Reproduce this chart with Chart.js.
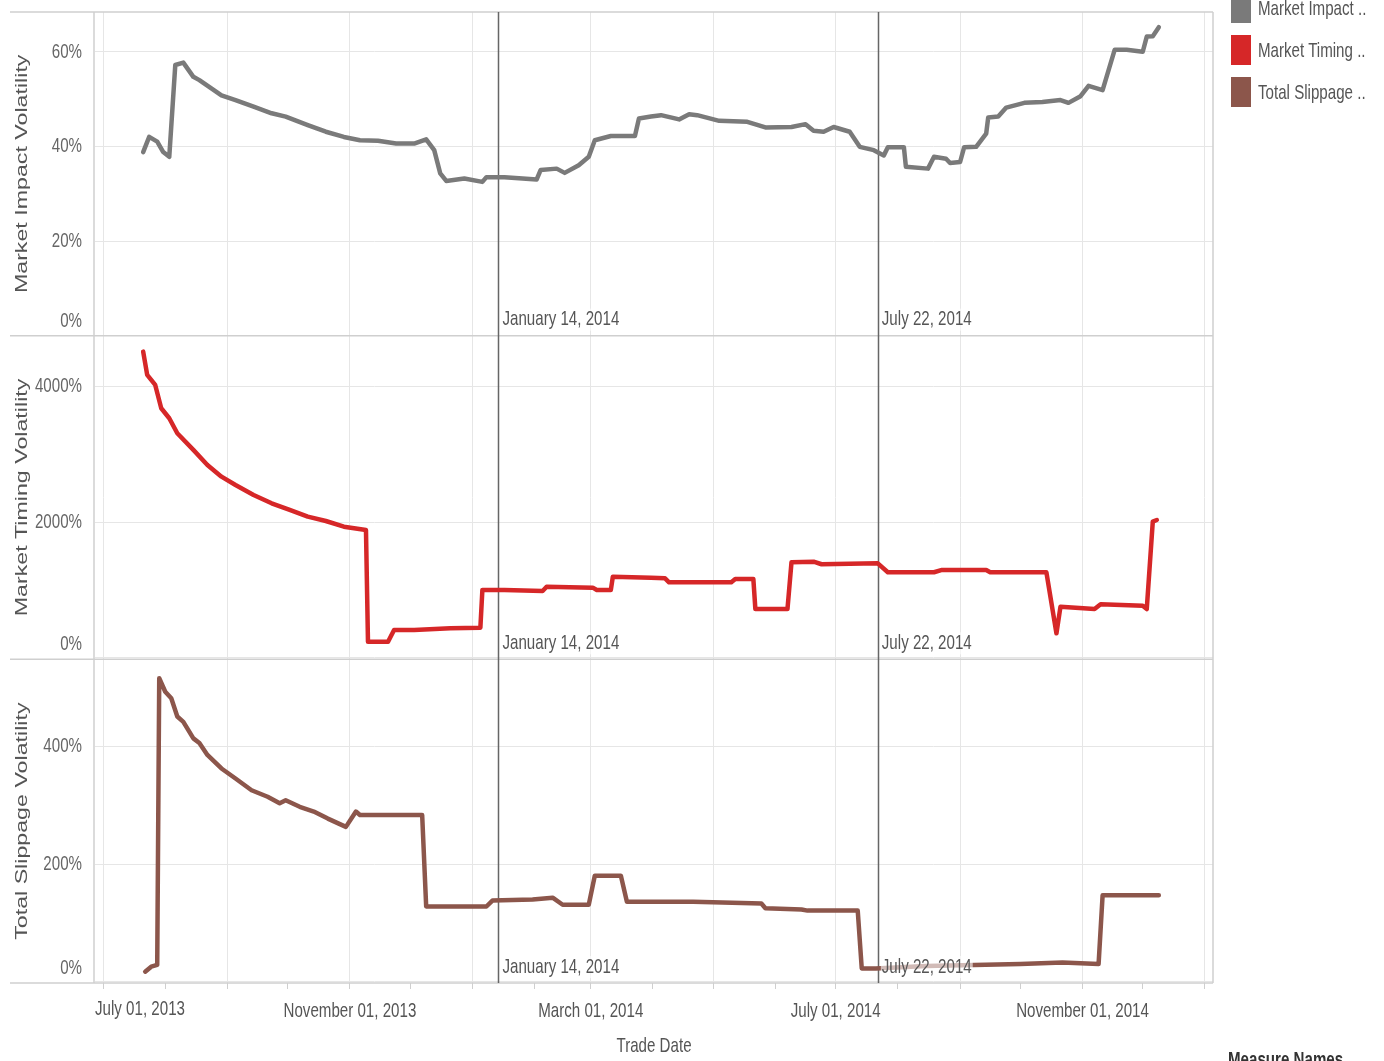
<!DOCTYPE html>
<html>
<head>
<meta charset="utf-8">
<script src="https://cdn.jsdelivr.net/npm/chart.js@4.4.1/dist/chart.umd.min.js"></script>
<style>
  html, body { margin: 0; padding: 0; background: #fff; overflow: hidden; }
  #wrap { position: relative; width: 1384px; height: 1061px; }
  #chart { position: absolute; left: 0; top: 0; }
  .legend-item { position: absolute; left: 1231px; height: 30px; display: flex; align-items: center; white-space: nowrap;
    font-family: 'Liberation Sans', Arial, sans-serif; font-size: 21px; color: #555; }
  .legend-item .sw { display: inline-block; width: 20px; height: 30px; margin-right: 7px; }
  .legend-item .tx { display: inline-block; transform: scaleX(0.72); transform-origin: left center; }
  #measure { position: absolute; left: 1228px; top: 1047px; font-weight: bold; color: #333; white-space: nowrap;
    font-family: 'Liberation Sans', Arial, sans-serif; font-size: 21px; transform: scaleX(0.72); transform-origin: left top; }
</style>
</head>
<body>
<div id="wrap">
  <canvas id="chart" width="1384" height="1061"></canvas>
  <div id="legend"></div>
  <div id="measure">Measure Names</div>
</div>
<script>
// ---- data ----
const seriesNames = ['Market Impact ..', 'Market Timing ..', 'Total Slippage ..'];
const seriesColors = ['#7a7a7a', '#d62728', '#8c564b'];

const impactDates = ['2013-07-21','2013-07-24','2013-07-28','2013-07-31','2013-08-03','2013-08-06','2013-08-10','2013-08-15','2013-08-18','2013-08-29',
  '2013-09-05','2013-09-14','2013-09-23','2013-09-30','2013-10-11','2013-10-20','2013-10-29','2013-11-06','2013-11-15','2013-11-24',
  '2013-12-03','2013-12-09','2013-12-13','2013-12-16','2013-12-19','2013-12-28','2014-01-06','2014-01-08','2014-01-17','2014-01-26',
  '2014-02-02','2014-02-04','2014-02-12','2014-02-16','2014-02-23','2014-02-28','2014-03-03','2014-03-11','2014-03-23','2014-03-25',
  '2014-03-31','2014-04-05','2014-04-14','2014-04-19','2014-04-23','2014-05-04','2014-05-18','2014-05-27','2014-06-09','2014-06-16',
  '2014-06-20','2014-06-25','2014-06-30','2014-07-08','2014-07-13','2014-07-20','2014-07-25','2014-07-27','2014-08-04','2014-08-05',
  '2014-08-16','2014-08-19','2014-08-25','2014-08-27','2014-09-01','2014-09-03','2014-09-09','2014-09-14','2014-09-15','2014-09-20',
  '2014-09-24','2014-10-03','2014-10-12','2014-10-21','2014-10-25','2014-10-31','2014-11-04','2014-11-11','2014-11-17','2014-11-23',
  '2014-12-01','2014-12-03','2014-12-06','2014-12-09'];
const impactValues = [38.8, 42.0, 41.0, 38.8, 37.8, 57.2, 57.7, 54.7, 54.0, 50.8,
  49.8, 48.4, 47.0, 46.3, 44.5, 43.1, 42.0, 41.3, 41.2, 40.6,
  40.6, 41.5, 39.2, 34.3, 32.7, 33.2, 32.5, 33.5, 33.5, 33.2,
  33.0, 35.0, 35.3, 34.4, 36.0, 37.8, 41.3, 42.2, 42.2, 45.9,
  46.3, 46.6, 45.7, 46.8, 46.6, 45.4, 45.2, 44.0, 44.1, 44.7,
  43.3, 43.1, 44.1, 43.1, 39.9, 39.2, 38.1, 39.8, 39.8, 35.7,
  35.3, 37.8, 37.4, 36.5, 36.7, 39.8, 39.9, 42.7, 46.1, 46.3,
  48.2, 49.2, 49.4, 49.8, 49.2, 50.6, 52.8, 51.9, 60.4, 60.4,
  60.0, 63.2, 63.3, 65.2];

const timingDates = ['2013-07-21','2013-07-23','2013-07-27','2013-07-30','2013-08-03','2013-08-07','2013-08-15','2013-08-22','2013-08-29','2013-09-05',
  '2013-09-14','2013-09-23','2013-10-02','2013-10-11','2013-10-20','2013-10-29','2013-11-09','2013-11-10','2013-11-20','2013-11-23',
  '2013-12-03','2013-12-21','2014-01-05','2014-01-06','2014-01-17','2014-02-05','2014-02-07','2014-03-02','2014-03-04','2014-03-11',
  '2014-03-12','2014-03-31','2014-04-07','2014-04-09','2014-05-10','2014-05-12','2014-05-21','2014-05-22','2014-06-07','2014-06-09',
  '2014-06-20','2014-06-24','2014-07-22','2014-07-27','2014-08-19','2014-08-23','2014-09-14','2014-09-16','2014-10-14','2014-10-19',
  '2014-10-21','2014-11-07','2014-11-10','2014-12-01','2014-12-03','2014-12-06','2014-12-08'];
const timingValues = [4517, 4173, 4025, 3682, 3534, 3313, 3067, 2845, 2673, 2550,
  2403, 2280, 2182, 2083, 2019, 1935, 1887, 239, 239, 412,
  412, 437, 446, 1002, 1002, 987, 1050, 1036, 1002, 1002,
  1198, 1183, 1174, 1115, 1115, 1164, 1164, 721, 721, 1410,
  1419, 1381, 1395, 1263, 1263, 1297, 1297, 1263, 1263, 363,
  755, 721, 791, 770, 721, 2009, 2034];

const slipDates = ['2013-07-22','2013-07-25','2013-07-28','2013-07-29','2013-08-01','2013-08-04','2013-08-07','2013-08-10','2013-08-15','2013-08-18',
  '2013-08-22','2013-08-29','2013-09-05','2013-09-13','2013-09-21','2013-09-27','2013-09-30','2013-10-07','2013-10-14','2013-10-21',
  '2013-10-30','2013-11-04','2013-11-06','2013-12-07','2013-12-09','2014-01-08','2014-01-11','2014-01-31','2014-02-10','2014-02-15',
  '2014-02-28','2014-03-03','2014-03-16','2014-03-19','2014-04-21','2014-05-25','2014-05-27','2014-06-14','2014-06-17','2014-07-12',
  '2014-07-14','2014-07-21','2014-08-15','2014-09-08','2014-10-01','2014-10-22','2014-11-09','2014-11-11','2014-12-09'];
const slipValues = [17.5, 26, 29, 515, 492, 481, 450, 441, 413, 405,
  385, 362, 345, 325, 314, 303, 308, 297, 289, 277,
  263, 289, 283, 283, 128, 128, 138, 140, 143, 131,
  131, 180, 180, 136, 136, 133, 125, 123, 121, 121,
  23, 23, 27, 29, 30.5, 33, 30.5, 147, 147];

const impactTicks = [0, 20, 40, 60];
const timingTicks = [0, 2000, 4000];
const slipTicks = [0, 200, 400];

const monthTicks = ['2013-07-01','2013-08-01','2013-09-01','2013-10-01','2013-11-01','2013-12-01','2014-01-01','2014-02-01','2014-03-01','2014-04-01',
  '2014-05-01','2014-06-01','2014-07-01','2014-08-01','2014-09-01','2014-10-01','2014-11-01','2014-12-01','2015-01-01'];
const xLabelDates = ['2013-07-01', '2013-11-01', '2014-03-01', '2014-07-01', '2014-11-01'];
const xLabelTexts = ['July 01, 2013', 'November 01, 2013', 'March 01, 2014', 'July 01, 2014', 'November 01, 2014'];

const refDates = ['2014-01-14', '2014-07-22'];
const refLabels = ['January 14, 2014', 'July 22, 2014'];

// ---- setup ----
// the original uses a narrow face; Liberation Sans is squeezed sideways to stand in for it
const NARROW = "'Liberation Sans Narrow', 'Liberation Sans', sans-serif";
const WIDE = "Arial, 'Liberation Sans', sans-serif";
const toPoints = (dates, vals) => dates.map((d, i) => ({ x: Date.parse(d), y: vals[i] }));

const canvas = document.getElementById('chart');
const c2d = canvas.getContext('2d');
const stretchFor = font => (font.includes('Narrow') ? 0.72 : font.includes('Arial') ? 1.45 : 1);
const rawFill = c2d.fillText.bind(c2d);
const rawMeasure = c2d.measureText.bind(c2d);
c2d.fillText = function (text, x, y) {
  const k = stretchFor(c2d.font);
  if (k === 1) return rawFill(text, x, y);
  c2d.save();
  c2d.translate(x, y);
  c2d.scale(k, 1);
  rawFill(text, 0, 0);
  c2d.restore();
};
c2d.measureText = function (text) {
  const m = rawMeasure(text);
  const k = stretchFor(c2d.font);
  if (k === 1) return m;
  return { width: m.width * k, actualBoundingBoxAscent: m.actualBoundingBoxAscent, actualBoundingBoxDescent: m.actualBoundingBoxDescent,
    actualBoundingBoxLeft: m.actualBoundingBoxLeft * k, actualBoundingBoxRight: m.actualBoundingBoxRight * k };
};

// legend
const legendEl = document.getElementById('legend');
seriesNames.forEach((name, i) => {
  const item = document.createElement('div');
  item.className = 'legend-item';
  item.style.top = (-7 + i * 42) + 'px';
  item.innerHTML = '<span class="sw" style="background:' + seriesColors[i] + '"></span><span class="tx">' + name + '</span>';
  legendEl.appendChild(item);
});

Chart.defaults.font.family = NARROW;
Chart.defaults.color = '#666';

function yAxis(ticks, min, max, title) {
  return {
    type: 'linear',
    position: 'left',
    stack: 'panels',
    stackWeight: 1,
    min: min,
    max: max,
    afterBuildTicks: s => { s.ticks = ticks.map(v => ({ value: v })); },
    afterFit: s => { s.width = 95; s.paddingTop = 0; s.paddingBottom = 0; },
    ticks: {
      padding: 13,
      font: { size: 21 },
      color: '#666',
      callback: v => (v === 0 ? '' : v + '%')
    },
    grid: { color: '#e6e6e6', lineWidth: 1, drawTicks: false },
    border: { display: false },
    title: {
      display: true,
      text: title,
      color: '#555',
      font: { family: WIDE, size: 16 },
      padding: { top: 13, bottom: 0 }
    }
  };
}

const labelFor = v => {
  const i = xLabelDates.findIndex(d => Date.parse(d) === v);
  return i > 0 ? xLabelTexts[i] : '';
};

const decor = {
  id: 'decor',
  beforeDatasetsDraw(chart) {
    const { ctx, chartArea, scales } = chart;
    ctx.save();
    ctx.strokeStyle = '#cfcfcf';
    ctx.lineWidth = 1.5;
    const ys = [chartArea.top, scales.yImpact.bottom, scales.yTiming.bottom, scales.ySlip.bottom];
    ys.forEach(y => {
      ctx.beginPath(); ctx.moveTo(10, y); ctx.lineTo(chartArea.right, y); ctx.stroke();
    });
    [chartArea.left - 1, chartArea.right].forEach(x => {
      ctx.beginPath(); ctx.moveTo(x, chartArea.top); ctx.lineTo(x, chartArea.bottom); ctx.stroke();
    });
    ctx.strokeStyle = '#666';
    ctx.lineWidth = 1.5;
    refDates.forEach(d => {
      const x = Math.round(scales.x.getPixelForValue(Date.parse(d))) + 0.5;
      ctx.beginPath(); ctx.moveTo(x, chartArea.top); ctx.lineTo(x, chartArea.bottom); ctx.stroke();
    });
    ctx.restore();
  },
  afterDatasetsDraw(chart) {
    const { ctx, scales } = chart;
    ctx.save();
    ctx.font = '21px ' + NARROW;
    ctx.textBaseline = 'middle';
    ctx.textAlign = 'left';
    ['yImpact', 'yTiming', 'ySlip'].forEach(id => {
      const y = scales[id].bottom - 16;
      refDates.forEach((d, i) => {
        const x = scales.x.getPixelForValue(Date.parse(d)) + 4;
        const w = ctx.measureText(refLabels[i]).width;
        ctx.fillStyle = 'rgba(255,255,255,0.6)';
        ctx.fillRect(x - 1, y - 11, w + 2, 22);
        ctx.fillStyle = '#555';
        ctx.fillText(refLabels[i], x, y);
      });
    });
    ctx.restore();
  },
  afterDraw(chart) {
    const { ctx, chartArea, scales } = chart;
    ctx.save();
    ctx.fillStyle = '#666';
    ctx.font = '21px ' + NARROW;
    ctx.textAlign = 'right';
    ctx.textBaseline = 'middle';
    ['yImpact', 'yTiming', 'ySlip'].forEach(id => {
      const s = scales[id];
      ctx.fillText('0%', s.right - 13, s.getPixelForValue(0) - 14);
    });
    // first date label is kept inside the plot, as in the original
    ctx.fillStyle = '#555';
    ctx.textAlign = 'left';
    ctx.textBaseline = 'top';
    const w = ctx.measureText(xLabelTexts[0]).width;
    const cx = scales.x.getPixelForValue(Date.parse(xLabelDates[0]));
    ctx.fillText(xLabelTexts[0], Math.max(cx - w / 2, chartArea.left), chartArea.bottom + 16);
    ctx.restore();
  }
};

new Chart(canvas, {
  type: 'line',
  data: {
    datasets: [
      { label: seriesNames[0], data: toPoints(impactDates, impactValues), yAxisID: 'yImpact', borderColor: seriesColors[0] },
      { label: seriesNames[1], data: toPoints(timingDates, timingValues), yAxisID: 'yTiming', borderColor: seriesColors[1] },
      { label: seriesNames[2], data: toPoints(slipDates, slipValues), yAxisID: 'ySlip', borderColor: seriesColors[2] }
    ]
  },
  options: {
    responsive: false,
    animation: false,
    layout: { padding: { left: 0, right: 171, top: 12, bottom: 0 } },
    elements: {
      line: { borderWidth: 4.5, tension: 0, borderJoinStyle: 'round', borderCapStyle: 'round' },
      point: { radius: 0 }
    },
    plugins: { legend: { display: false }, tooltip: { enabled: false } },
    scales: {
      x: {
        type: 'linear',
        min: Date.parse('2013-06-27'),
        max: Date.parse('2015-01-05'),
        afterBuildTicks: s => { s.ticks = monthTicks.map(d => ({ value: Date.parse(d) })); },
        afterFit: s => { s.height = 78; s.paddingLeft = 0; s.paddingRight = 0; },
        ticks: { autoSkip: false, maxRotation: 0, padding: 10, color: '#555', font: { size: 21 }, callback: v => labelFor(v) },
        grid: {
          color: c => (c.tick && new Date(c.tick.value).getUTCMonth() % 2 === 0 ? '#e6e6e6' : 'rgba(0,0,0,0)'),
          tickColor: '#cfcfcf',
          tickLength: 6
        },
        border: { display: false },
        title: { display: true, text: 'Trade Date', color: '#555', font: { size: 21 }, padding: { top: 0, bottom: 2 } }
      },
      // stacked axes are laid out bottom-up, so the top panel is listed last
      ySlip: yAxis(slipTicks, -1.7, 547, 'Total Slippage Volatility'),
      yTiming: yAxis(timingTicks, -21, 4752, 'Market Timing Volatility'),
      yImpact: yAxis(impactTicks, 0, 68.4, 'Market Impact Volatility')
    }
  },
  plugins: [decor]
});
</script>
</body>
</html>
